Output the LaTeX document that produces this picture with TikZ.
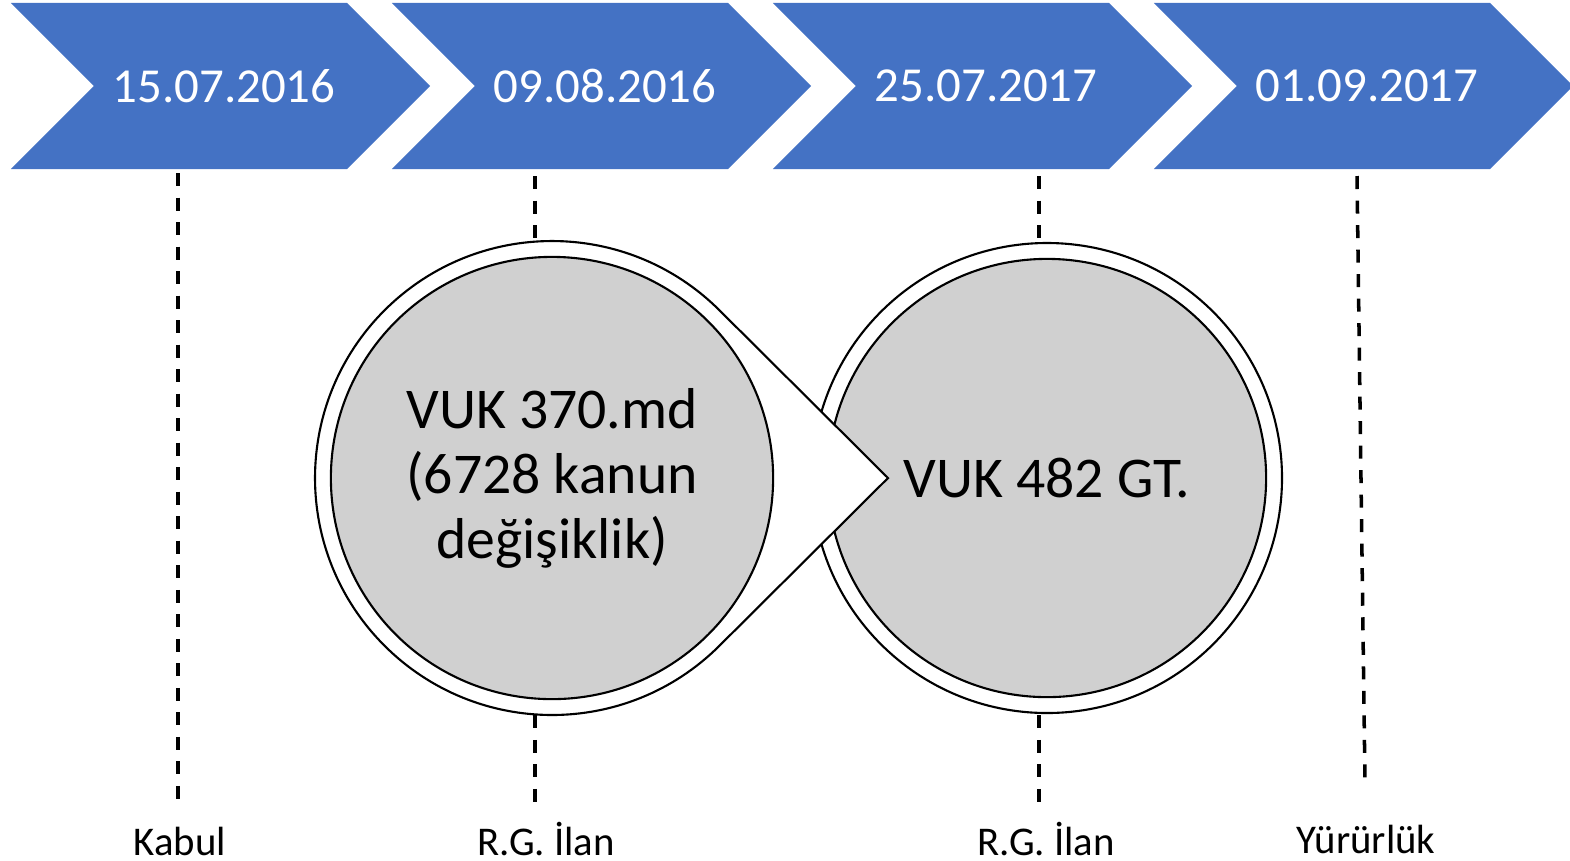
\documentclass[tikz,border=0pt]{standalone}
\usepackage{fontspec}
\setmainfont{Carlito}
\usetikzlibrary{shapes.symbols}
\definecolor{chevblue}{HTML}{4472C4}
\definecolor{bubblegray}{HTML}{D0D0D0}

\begin{document}
\begin{tikzpicture} [x = 0.01cm, y = -0.01cm,
  chevron/.style = {signal, signal from = west, signal to = east, signal pointer angle = 90,
    fill = chevblue, minimum width = 4.19cm, minimum height = 1.66cm, inner sep = 0pt,
    text = white, font = \fontsize{13.9}{16}\selectfont},
  guide/.style = {dash pattern = on 0.13cm off 0.115cm, line width = 1pt},
  ring/.style = {draw, fill = white, line width = 0.6pt},
  bubble/.style = {circle, draw, fill = bubblegray, line width = 0.6pt, inner sep = 0pt,
    align = center, font = \fontsize{16.4}{18.5}\selectfont},
  tag/.style = {anchor = base, inner sep = 0pt, font = \fontsize{11.6}{14}\selectfont}]
\useasboundingbox (0,0) rectangle (1570,860);
% dashed guides
\coordinate (g1a) at (178,173);
\coordinate (g1b) at (178,805);
\coordinate (g2a) at (535,176);
\coordinate (g2b) at (535,805);
\coordinate (g3a) at (1039,176);
\coordinate (g3b) at (1039,805);
\coordinate (g4a) at (1357,176);
\coordinate (g4b) at (1365,784);
\draw [guide] (g1a) -- (g1b);
\draw [guide] (g2a) -- (g2b);
\draw [guide] (g3a) -- (g3b);
\draw [guide] (g4a) -- (g4b);
% chevrons
\node (d1) [chevron] at (220.5,86) {\hspace{2pt}15.07.2016};
\node (d2) [chevron] at (601.5,86) {\hspace{2pt}09.08.2016};
\node (d3) [chevron] at (982.5,86) {\hspace{2pt}25.07.2017};
\node (d4) [chevron] at (1363.5,86) {\hspace{2pt}01.09.2017};
% bubbles
\coordinate (c482) at (1047,478);
\draw [ring] (c482) circle [radius = 235];
\node (vuk482) [bubble, minimum size = 4.38cm] at (c482) {VUK 482 GT.};
\coordinate (c370) at (552,478);
\coordinate (tip) at (888,478);
\draw [ring] (tip) -- ([shift = {(c370)}] 45.1:237) arc [start angle = 45.1, end angle = 314.9, radius = 237] -- cycle;
\node (vuk370) [bubble, minimum size = 4.42cm] at (c370) {VUK 370.md\\(6728 kanun\\değişiklik)};
% labels
\node (kabul) [tag] at (180,855) {Kabul};
\node (ilan1) [tag] at (546,855) {R.G. İlan};
\node (ilan2) [tag] at (1046,855) {R.G. İlan};
\node (yururluk) [tag] at (1366,853) {Yürürlük};
\end{tikzpicture}
\end{document}
